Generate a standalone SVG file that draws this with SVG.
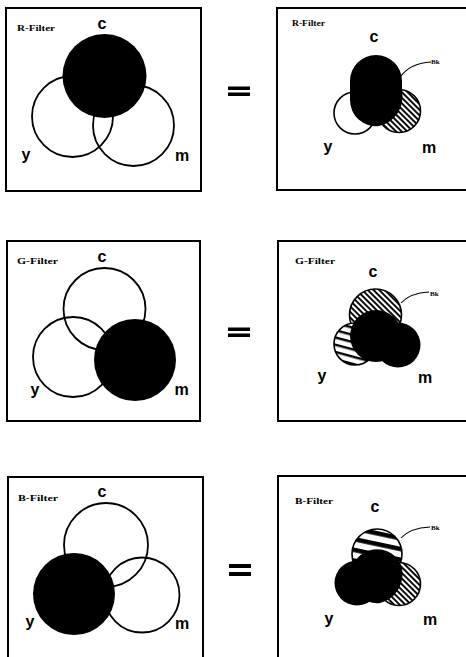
<svg xmlns="http://www.w3.org/2000/svg" width="466" height="657" viewBox="0 0 466 657">
<style>
.box{fill:none;stroke:#000;stroke-width:2}
.ring{fill:none;stroke:#000;stroke-width:1.8}
.ring2{stroke:#000;stroke-width:1.6}
.blk{fill:#000}
.lbl{font-family:"Liberation Sans",Arial,sans-serif;font-weight:bold;font-size:16px;text-anchor:middle;fill:#000}
.flt{font-family:"Liberation Serif","Times New Roman",serif;font-weight:bold;font-size:8px;fill:#000}
.bk{font-family:"Liberation Serif","Times New Roman",serif;font-weight:bold;font-size:7px;fill:#000}
.lead{fill:none;stroke:#000;stroke-width:1.1}
</style>
<defs>
<pattern id="diag" width="4" height="4" patternUnits="userSpaceOnUse" patternTransform="rotate(45)">
<rect width="4" height="4" fill="#fff"/><rect width="4" height="1.9" fill="#000"/>
</pattern>
<pattern id="hor" width="7" height="7" patternUnits="userSpaceOnUse" patternTransform="rotate(15)">
<rect width="7" height="7" fill="#fff"/><rect width="7" height="2.4" fill="#000"/>
</pattern>
<pattern id="horw" width="10.5" height="10.5" patternUnits="userSpaceOnUse" patternTransform="rotate(12)">
<rect width="10.5" height="10.5" fill="#fff"/><rect width="10.5" height="4.5" fill="#000"/>
</pattern>
</defs>
<rect width="466" height="657" fill="#fff"/>

<g id="r-left">
<rect class="box" x="6" y="8" width="195" height="183"/>
<text class="flt" x="17" y="31" textLength="38" lengthAdjust="spacingAndGlyphs">R-Filter</text>
<circle class="ring" cx="72.5" cy="116.5" r="40.5"/>
<circle class="ring" cx="133.5" cy="125.5" r="40.5"/>
<circle class="blk" cx="104.5" cy="76" r="42"/>
<text class="lbl" x="102" y="29">c</text>
<text class="lbl" x="26" y="160">y</text>
<text class="lbl" x="182" y="161">m</text>
</g>

<g id="r-eq"><rect x="228" y="86.5" width="22" height="3.5"/><rect x="228" y="92.5" width="22" height="3.5"/></g>

<g id="r-right">
<rect class="box" x="277" y="8" width="200" height="182"/>
<text class="flt" x="292" y="26" textLength="33" lengthAdjust="spacingAndGlyphs">R-Filter</text>
<circle class="ring2" cx="355" cy="113" r="21" fill="#fff"/>
<circle class="ring2" cx="399" cy="111" r="21.5" fill="url(#diag)"/>
<path class="blk" d="M350 81 A26 26 0 0 1 402 81 L402 91 A30 30 0 0 1 379 126 A26 26 0 0 1 350 100 Z"/>
<path class="lead" d="M401 76 Q411 63 431 62"/>
<text class="bk" x="431" y="64">Bk</text>
<text class="lbl" x="374" y="42">c</text>
<text class="lbl" x="328" y="152">y</text>
<text class="lbl" x="429" y="153">m</text>
</g>

<g id="g-left">
<rect class="box" x="7" y="241" width="193" height="180"/>
<text class="flt" x="17" y="264" textLength="41" lengthAdjust="spacingAndGlyphs">G-Filter</text>
<circle class="ring" cx="104.5" cy="309" r="41"/>
<circle class="ring" cx="73" cy="357" r="40"/>
<circle class="blk" cx="135" cy="360" r="41"/>
<text class="lbl" x="102" y="262">c</text>
<text class="lbl" x="35" y="395">y</text>
<text class="lbl" x="181.5" y="395">m</text>
</g>

<g id="g-eq"><rect x="228" y="327.5" width="22" height="3.5"/><rect x="228" y="333.5" width="22" height="3.5"/></g>

<g id="g-right">
<rect class="box" x="278" y="241" width="199" height="180"/>
<text class="flt" x="295" y="264" textLength="40" lengthAdjust="spacingAndGlyphs">G-Filter</text>
<circle class="ring2" cx="375.5" cy="315" r="26" fill="url(#diag)"/>
<circle class="ring2" cx="355" cy="344" r="21" fill="url(#hor)"/>
<circle class="blk" cx="376" cy="336" r="26"/>
<circle class="blk" cx="398" cy="345" r="22.5"/>
<path class="lead" d="M401 303 Q410 293 429 292"/>
<text class="bk" x="430" y="296">Bk</text>
<text class="lbl" x="373" y="277">c</text>
<text class="lbl" x="322" y="381">y</text>
<text class="lbl" x="425" y="383">m</text>
</g>

<g id="b-left">
<rect class="box" x="8" y="477" width="195" height="190"/>
<text class="flt" x="18" y="501" textLength="40" lengthAdjust="spacingAndGlyphs">B-Filter</text>
<circle class="ring" cx="106" cy="545" r="42"/>
<circle class="ring" cx="142" cy="595" r="37.5"/>
<circle class="blk" cx="74" cy="594" r="41"/>
<text class="lbl" x="102" y="497">c</text>
<text class="lbl" x="30" y="627">y</text>
<text class="lbl" x="182" y="629">m</text>
</g>

<g id="b-eq"><rect x="229" y="564" width="22" height="4"/><rect x="229" y="572" width="22" height="4"/></g>

<g id="b-right">
<rect class="box" x="278" y="476" width="199" height="190"/>
<text class="flt" x="295" y="504" textLength="38" lengthAdjust="spacingAndGlyphs">B-Filter</text>
<circle class="ring2" cx="377" cy="554" r="25" fill="url(#horw)"/>
<circle class="ring2" cx="399" cy="584" r="21.5" fill="url(#diag)"/>
<circle class="blk" cx="357" cy="583" r="22.5"/>
<path class="blk" d="M351 575 A26 26 0 0 1 402 568 A30 30 0 0 1 380 603 A26 26 0 0 1 351 575 Z"/>
<path class="lead" d="M401 538 Q410 528 430 527"/>
<text class="bk" x="431" y="530">Bk</text>
<text class="lbl" x="375" y="512">c</text>
<text class="lbl" x="329" y="624">y</text>
<text class="lbl" x="430" y="625">m</text>
</g>
</svg>
